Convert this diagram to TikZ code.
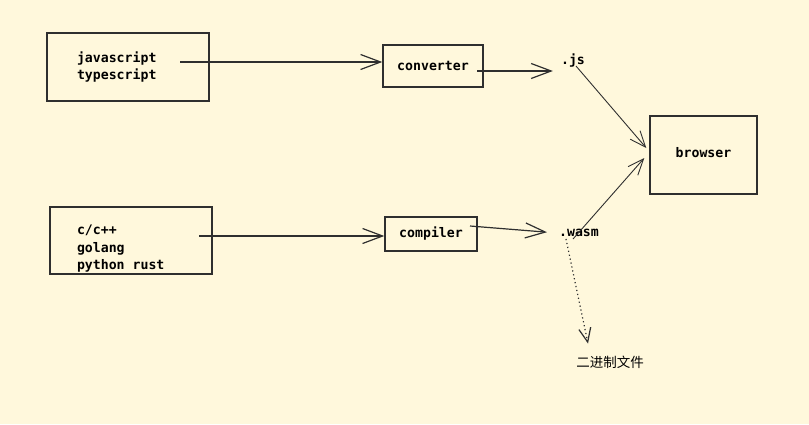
\documentclass[tikz,border=0pt]{standalone}
\usepackage{fontspec}
\setmonofont[WordSpace={1,0,0}]{DejaVu Sans Mono}
\newfontfamily\cjk{Noto Sans CJK SC}
\usetikzlibrary{arrows.meta}
\definecolor{paper}{HTML}{FFF8DC}
\definecolor{pen}{HTML}{2F2F2F}
\tikzset{
  box/.style={draw=pen, line width=1.4pt, font=\ttfamily\bfseries\fontsize{13.2}{17.5}\selectfont},
  word/.style={inner sep=2pt, font=\ttfamily\bfseries\fontsize{13.2}{17.5}\selectfont},
  arr/.style={draw=pen, line width=1.2pt, -{Straight Barb[length=20pt,width=15pt]}},
  thinarr/.style={draw=pen, line width=0.9pt, -{Straight Barb[length=16pt,width=13pt]}},
  dotarr/.style={draw=pen, line width=1.2pt, dash pattern=on 1.2pt off 2.8pt, -{Straight Barb[length=14pt,width=12pt]}}
}
\begin{document}
\begin{tikzpicture}[x=1pt, y=-1pt]
    \fill[paper] (0, 0) rectangle (809, 424);
    \useasboundingbox (0, 0) rectangle (809, 424);
    \node[box, text width=102pt, inner xsep=30pt, minimum height=68pt, align=left] (langA) at (128, 67) {javascript\\typescript};
    \node[box, text width=108pt, inner xsep=27pt, inner ysep=0pt, minimum height=67pt, align=left] (langB) at (131, 240.5) {\rule{0pt}{26pt}c/c++\\golang\\python\hspace{0.602em}rust};
    \node[box, minimum width=100pt, minimum height=42pt] (converter) at (433, 66) {\raisebox{-2pt}{converter}};
    \node[box, minimum width=92pt, minimum height=34pt] (compiler) at (431, 234) {\raisebox{-2pt}{compiler}};
    \node[box, minimum width=107pt, minimum height=78pt] (browser) at (703.5, 155) {\raisebox{5pt}{browser}};
    \node[word] (jsext) at (573, 60) {.js};
    \node[word] (wasmext) at (579, 233) {.wasm};
    \node[inner sep=2pt, font=\cjk\fontsize{13.5}{16}\selectfont] (binfile) at (610, 362) {二进制文件};
    \coordinate (jsOut) at (180, 62);
    \coordinate (convOut) at (477, 71);
    \coordinate (cOut) at (199, 236);
    \coordinate (compOut) at (470, 226);
    \draw[arr] (jsOut) -- (jsOut -| converter.west);
    \draw[arr, shorten >=6pt] (convOut) -- (convOut -| jsext.west);
    \draw[arr] (cOut) -- (cOut -| compiler.west);
    \draw[arr, shorten >=10pt] (compOut) -- (wasmext.west);
    \draw[thinarr] ([xshift=3pt, yshift=-6pt]jsext.center) -- ([xshift=-3pt, yshift=7pt]browser.west);
    \draw[thinarr] ([xshift=-6pt, yshift=-6pt]wasmext.center) -- ([xshift=-5pt, yshift=-3pt]browser.west);
    \draw[dotarr] ([xshift=-13pt]wasmext.south) -- ([xshift=-22pt, yshift=10pt]binfile.north);
\end{tikzpicture}
\end{document}
